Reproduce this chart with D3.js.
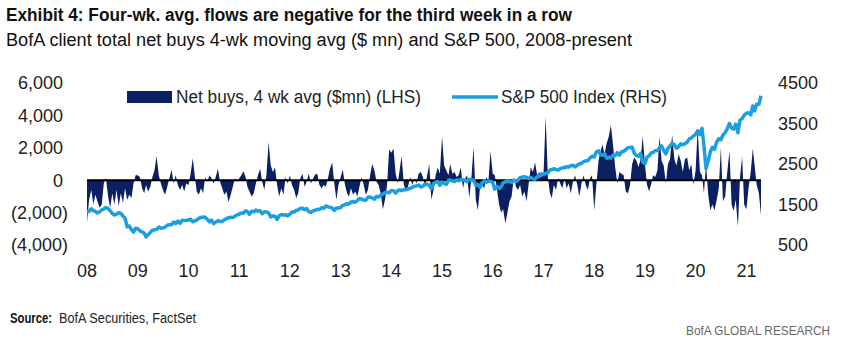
<!DOCTYPE html>
<html>
<head>
<meta charset="utf-8">
<script src="https://cdn.jsdelivr.net/npm/d3@7"></script>
<style>
  body { margin: 0; background: #fff; }
  svg { display: block; }
</style>
</head>
<body>
<div class="chart"></div>
<script>
const width = 852
const height = 340

// net buys, 4 wk avg ($mn), read twice a month (1st and 16th), 2008 -> Apr 2021
const flowYears = [2008, 2009, 2010, 2011, 2012, 2013, 2014, 2015, 2016, 2017, 2018, 2019, 2020, 2021]
const netBuys = [
  [-2600, -1200, -600, -1500, -900, -1300, -1700, -1500, -200, 150, -1000, -1700, -800, -1500, -600, -1600, -800, -1400, -500, -1200, -900, -1100, -200, 300],
  [300, 200, -500, -800, -300, -700, -400, 200, 600, 1500, 300, -200, -600, -900, -400, 100, 650, -200, 300, -300, -600, -300, -700, -200],
  [-300, 400, 1350, 200, -700, -900, -500, -800, 200, -100, 300, 100, -200, 200, 700, -100, -500, -900, -700, -1350, -900, -400, 100, -100],
  [100, 300, 550, 200, -400, -700, -1000, -800, -200, 300, 700, -100, -600, 300, 2350, 900, 500, 800, -300, -1000, -500, -900, 200, -200],
  [300, -300, -600, -1100, -800, 100, 400, -400, -100, 400, -200, 100, 350, 400, -300, -500, -300, -400, 100, 700, 1100, -200, -1200, -300],
  [200, 650, -300, -800, -1000, -500, -900, -700, -1000, -400, 200, -300, -900, -600, 300, 1000, 600, -100, -300, -800, -1800, -1200, -300, 1900],
  [1700, 1950, 400, -200, 600, 1500, -300, -600, -400, 200, -300, 100, -200, 400, 500, 200, -400, 300, 1000, -1200, -600, 300, 800, 400],
  [2700, 900, 600, 300, 1000, 400, 500, 200, 300, 800, -500, 100, 300, -1100, 200, 2050, -1200, -1850, -500, -300, -500, 200, -100, 1800],
  [400, 300, -600, -1500, -2000, -1800, -2670, -2000, -1300, -1000, 200, -400, -600, -300, -1000, -700, -1300, -200, 800, 500, 1100, 300, 500, 200],
  [400, 3950, 200, -800, -1100, -300, -600, 150, -200, -500, 100, -500, -200, -800, -100, 300, -300, -1000, -200, 300, -300, -600, 100, 300],
  [-1850, -300, 1200, 1800, 2200, 1600, 2300, 2700, 3400, 2200, 800, -200, 500, 400, 300, -700, -800, -300, 1000, 1400, 1200, 800, 1300, 2700],
  [1000, -300, -700, -200, 300, 200, 600, 2700, 1200, 900, -200, 1000, 1300, 2800, 1300, 900, 1600, 1200, 500, 1300, 1400, 600, 1000, -300],
  [600, 3200, 500, 300, -800, 1000, -900, -1850, -1500, -1850, -1200, -500, 2000, -1300, -1000, 500, 1800, -1500, -1900, -1200, -2880, 200, 1440, -1500],
  [-1800, -500, 500, 1950, 900, -300, -800, -2200]
]

// S&P 500 index, same dates
const spx = [
  [1330, 1330, 1395, 1350, 1330, 1290, 1320, 1365, 1390, 1425, 1400, 1340, 1280, 1240, 1260, 1300, 1280, 1213, 1160, 946, 968, 880, 816, 913],
  [903, 850, 825, 790, 700, 753, 811, 865, 877, 882, 942, 911, 923, 940, 987, 1004, 998, 1068, 1029, 1087, 1036, 1110, 1108, 1110],
  [1115, 1136, 1074, 1094, 1115, 1160, 1178, 1192, 1186, 1135, 1070, 1115, 1027, 1064, 1102, 1080, 1080, 1124, 1146, 1176, 1184, 1178, 1206, 1243],
  [1258, 1293, 1286, 1343, 1327, 1257, 1332, 1319, 1363, 1333, 1345, 1272, 1320, 1317, 1292, 1193, 1219, 1209, 1131, 1224, 1253, 1236, 1247, 1219],
  [1258, 1315, 1312, 1358, 1366, 1404, 1408, 1370, 1398, 1320, 1310, 1342, 1362, 1375, 1379, 1418, 1407, 1465, 1441, 1433, 1412, 1353, 1416, 1413],
  [1426, 1480, 1498, 1520, 1515, 1560, 1569, 1555, 1598, 1650, 1631, 1610, 1606, 1680, 1686, 1660, 1633, 1704, 1682, 1733, 1757, 1790, 1806, 1786],
  [1848, 1838, 1783, 1840, 1859, 1840, 1872, 1862, 1884, 1897, 1924, 1950, 1960, 1981, 1931, 1955, 2003, 2001, 1972, 1886, 2018, 2051, 2068, 1972],
  [2059, 2019, 1995, 2100, 2105, 2081, 2068, 2106, 2086, 2120, 2107, 2096, 2063, 2124, 2104, 2102, 1972, 1990, 1920, 2033, 2079, 2050, 2080, 2073],
  [2044, 1880, 1940, 1895, 1932, 2037, 2060, 2081, 2065, 2047, 2097, 2071, 2099, 2161, 2174, 2187, 2171, 2139, 2168, 2133, 2126, 2181, 2199, 2258],
  [2239, 2272, 2279, 2351, 2364, 2385, 2363, 2349, 2384, 2402, 2412, 2433, 2423, 2459, 2470, 2425, 2472, 2500, 2519, 2557, 2575, 2585, 2648, 2690],
  [2674, 2800, 2824, 2730, 2714, 2750, 2641, 2670, 2648, 2723, 2705, 2780, 2718, 2800, 2816, 2850, 2902, 2905, 2914, 2768, 2712, 2690, 2760, 2545],
  [2507, 2670, 2704, 2780, 2784, 2830, 2834, 2900, 2946, 2840, 2752, 2890, 2942, 3013, 2980, 2890, 2926, 3000, 2977, 3000, 3038, 3120, 3141, 3192],
  [3231, 3320, 3226, 3380, 2954, 2386, 2585, 2800, 2912, 2863, 3044, 3125, 3100, 3215, 3271, 3372, 3500, 3385, 3363, 3483, 3270, 3585, 3622, 3701],
  [3756, 3768, 3714, 3932, 3811, 3974, 3973, 4185]
]

const leftTicks = [6000, 4000, 2000, 0, -2000, -4000]
const rightTicks = [4500, 3500, 2500, 1500, 500]
const yearTicks = d3.range(2008, 2022)

const navy = "#0b1f63"
const blue = "#1a9fe0"
const font = "'Liberation Sans', Arial, sans-serif"

// flatten to dated rows
const rows = []
flowYears.forEach((yr, i) => {
  netBuys[i].forEach((v, j) => {
    rows.push({
      date: new Date(yr, Math.floor(j / 2), j % 2 ? 16 : 1),
      flow: v,
      spx: spx[i][j]
    })
  })
})

const x = d3.scaleTime()
  .domain([new Date(2008, 0, 1), new Date(2021, 3, 16)])
  .range([87, 761])

const yL = d3.scaleLinear().domain([-4000, 6000]).range([245, 83])
const yR = d3.scaleLinear().domain([500, 4500]).range([245, 83])

const svg = d3.create("svg")
  .attr("width", width)
  .attr("height", height)
  .style("font-family", font)

// titles
svg.append("text")
  .attr("x", 6).attr("y", 21)
  .attr("textLength", 566).attr("lengthAdjust", "spacingAndGlyphs")
  .style("font", `bold 18px ${font}`)
  .attr("fill", "#111")
  .text("Exhibit 4: Four-wk. avg. flows are negative for the third week in a row")

svg.append("text")
  .attr("x", 6).attr("y", 46)
  .attr("textLength", 626).attr("lengthAdjust", "spacingAndGlyphs")
  .style("font", `18px ${font}`)
  .attr("fill", "#111")
  .text("BofA client total net buys 4-wk moving avg ($ mn) and S&P 500, 2008-present")

// net buys area
const area = d3.area()
  .x(d => x(d.date))
  .y0(yL(0))
  .y1(d => yL(d.flow))

svg.append("path")
  .datum(rows)
  .attr("fill", navy)
  .attr("d", area)

// zero line
svg.append("line")
  .attr("x1", x.range()[0]).attr("x2", x.range()[1])
  .attr("y1", yL(0)).attr("y2", yL(0))
  .attr("stroke", "#000")
  .attr("stroke-width", 2)

// S&P line
const line = d3.line()
  .x(d => x(d.date))
  .y(d => yR(d.spx))

svg.append("path")
  .datum(rows)
  .attr("fill", "none")
  .attr("stroke", blue)
  .attr("stroke-width", 3.5)
  .attr("stroke-linejoin", "round")
  .attr("d", line)

// left axis labels
const fmt = d3.format(",")
svg.append("g")
  .selectAll("text")
  .data(leftTicks)
  .join("text")
  .attr("x", d => d < 0 ? 68 : 63)
  .attr("y", d => yL(d))
  .attr("dy", "0.36em")
  .attr("text-anchor", "end")
  .style("font-size", "18px")
  .attr("fill", "#222")
  .text(d => d < 0 ? `(${fmt(-d)})` : fmt(d))

// right axis labels
svg.append("g")
  .selectAll("text")
  .data(rightTicks)
  .join("text")
  .attr("x", 778)
  .attr("y", d => yR(d))
  .attr("dy", "0.36em")
  .style("font-size", "18px")
  .attr("fill", "#222")
  .text(d => d)

// x axis labels
svg.append("g")
  .selectAll("text")
  .data(yearTicks)
  .join("text")
  .attr("x", d => x(new Date(d, 0, 1)))
  .attr("y", 277)
  .attr("text-anchor", "middle")
  .style("font-size", "18px")
  .attr("fill", "#222")
  .text(d => String(d % 100).padStart(2, "0"))

// legend
svg.append("rect")
  .attr("x", 127).attr("y", 91)
  .attr("width", 45).attr("height", 12)
  .attr("fill", navy)

svg.append("text")
  .attr("x", 176).attr("y", 102.5)
  .attr("textLength", 245).attr("lengthAdjust", "spacingAndGlyphs")
  .style("font-size", "18px")
  .attr("fill", "#222")
  .text("Net buys, 4 wk avg ($mn) (LHS)")

svg.append("line")
  .attr("x1", 452).attr("x2", 498)
  .attr("y1", 97).attr("y2", 97)
  .attr("stroke", blue)
  .attr("stroke-width", 3.5)

svg.append("text")
  .attr("x", 501).attr("y", 102.5)
  .attr("textLength", 166).attr("lengthAdjust", "spacingAndGlyphs")
  .style("font-size", "18px")
  .attr("fill", "#222")
  .text("S&P 500 Index (RHS)")

// source
svg.append("text")
  .attr("x", 10).attr("y", 323)
  .attr("textLength", 42).attr("lengthAdjust", "spacingAndGlyphs")
  .style("font", `bold 14px ${font}`)
  .attr("fill", "#111")
  .text("Source:")

svg.append("text")
  .attr("x", 59).attr("y", 323)
  .attr("textLength", 137).attr("lengthAdjust", "spacingAndGlyphs")
  .style("font-size", "14px")
  .attr("fill", "#222")
  .text("BofA Securities, FactSet")

svg.append("text")
  .attr("x", 830).attr("y", 335)
  .attr("text-anchor", "end")
  .attr("textLength", 144).attr("lengthAdjust", "spacingAndGlyphs")
  .style("font-size", "13px")
  .attr("fill", "#666")
  .text("BofA GLOBAL RESEARCH")

document.querySelector(".chart").append(svg.node())
</script>
</body>
</html>
